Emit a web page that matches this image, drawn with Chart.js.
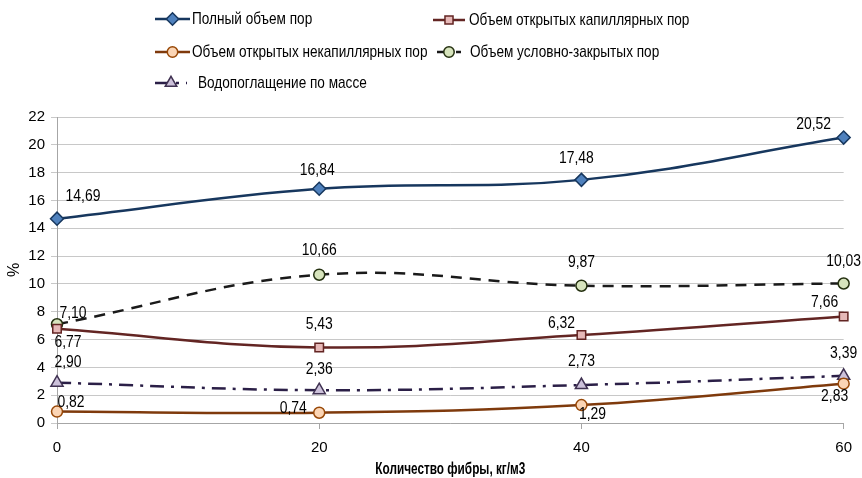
<!DOCTYPE html>
<html>
<head>
<meta charset="utf-8">
<script src="https://cdn.jsdelivr.net/npm/chart.js@4/dist/chart.umd.min.js"></script>
<style>
html,body{margin:0;padding:0;background:#fff;}
#wrap{width:862px;height:478px;position:relative;}
</style>
</head>
<body>
<div id="wrap"><canvas id="c" width="862" height="478"></canvas></div>
<script>
// ---- data ----
const fiber = [0, 20, 40, 60];
const totalPores = [14.69, 16.84, 17.48, 20.52];
const openCapillary = [6.77, 5.43, 6.32, 7.66];
const openNonCapillary = [0.82, 0.74, 1.29, 2.83];
const closedPores = [7.10, 10.66, 9.87, 10.03];
const waterAbsorption = [2.90, 2.36, 2.73, 3.39];
const seriesNames = [
  'Полный объем пор',
  'Объем открытых капиллярных пор',
  'Объем открытых некапиллярных пор',
  'Объем условно-закрытых пор',
  'Водопоглащение по массе'
];
const yTicks = [0, 2, 4, 6, 8, 10, 12, 14, 16, 18, 20, 22];
const xTitle = 'Количество фибры, кг/м3';
const yTitle = '%';

const FONT = '"Liberation Sans", Arial, sans-serif';

function pts(arr){ return arr.map((v,i)=>({x:fiber[i], y:v})); }

const datasets = [
  {label:seriesNames[0], data:pts(totalPores), borderColor:'#17375E', pointBackgroundColor:'#4F81BD', pointBorderColor:'#17375E', pointStyle:'rectRot', pointRadius:6.5, borderDash:[]},
  {label:seriesNames[1], data:pts(openCapillary), borderColor:'#632523', pointBackgroundColor:'#E6B9B8', pointBorderColor:'#632523', pointStyle:'rect', pointRadius:6, borderDash:[]},
  {label:seriesNames[2], data:pts(openNonCapillary), borderColor:'#7F3A0C', pointBackgroundColor:'#FBD5B5', pointBorderColor:'#984807', pointStyle:'circle', pointRadius:5.5, borderDash:[]},
  {label:seriesNames[3], data:pts(closedPores), borderColor:'#1A1A1A', pointBackgroundColor:'#D7E4BD', pointBorderColor:'#243010', pointStyle:'circle', pointRadius:5.5, borderDash:[11,8]},
  {label:seriesNames[4], data:pts(waterAbsorption), borderColor:'#2B1F47', pointBackgroundColor:'#CCC1DA', pointBorderColor:'#3F3151', pointStyle:'triangle', pointRadius:7, borderDash:[14,7,3,7]}
].map(d=>Object.assign({borderWidth:2.5, pointBorderWidth:1.5, tension:0.4, fill:false, clip:false}, d));

// label offsets (dx,dy) per point
const labelOffsets = [
  [[26,-22],[-2,-18],[-5,-21],[-30,-13]],
  [[11,14],[0,-23],[-20,-12],[-19,-14]],
  [[14,-9],[-26,-4],[11,10],[-9,13]],
  [[16,-11],[0,-24],[0,-23],[0,-22]],
  [[11,-20],[0,-21],[0,-23],[0,-22]]
];

const legendLayout = [
  {x:155, y:19, w:35, tx:192},
  {x:433, y:20, w:32, tx:469},
  {x:155, y:52, w:35, tx:192},
  {x:437, y:52, w:24, tx:470},
  {x:155, y:83, w:32, tx:198}
];

function condensedText(ctx, text, x, y, align, sx){
  ctx.save();
  ctx.translate(x, y);
  ctx.scale(sx, 1);
  ctx.textAlign = align;
  ctx.fillText(text, 0, 0);
  ctx.restore();
}

const labelPlugin = {
  id:'valueLabels',
  afterDatasetsDraw(chart){
    const ctx = chart.ctx;
    ctx.save();
    ctx.font = '16px ' + FONT;
    ctx.fillStyle = '#000';
    ctx.textBaseline = 'middle';
    chart.data.datasets.forEach((ds, di)=>{
      const meta = chart.getDatasetMeta(di);
      meta.data.forEach((el, i)=>{
        const v = ds.data[i].y;
        const off = labelOffsets[di][i];
        condensedText(ctx, v.toFixed(2).replace('.', ','), el.x + off[0], el.y + off[1], 'center', 0.87);
      });
    });
    ctx.restore();
  }
};

const legendPlugin = {
  id:'customLegend',
  afterDraw(chart){
    const ctx = chart.ctx;
    ctx.save();
    chart.data.datasets.forEach((ds, di)=>{
      const L = legendLayout[di];
      ctx.strokeStyle = ds.borderColor;
      ctx.lineWidth = ds.borderWidth;
      ctx.setLineDash(ds.borderDash || []);
      ctx.beginPath();
      ctx.moveTo(L.x, L.y);
      ctx.lineTo(L.x + L.w, L.y);
      ctx.stroke();
      ctx.setLineDash([]);
      ctx.fillStyle = ds.pointBackgroundColor;
      ctx.strokeStyle = ds.pointBorderColor;
      ctx.lineWidth = ds.pointBorderWidth;
      Chart.helpers.drawPoint(ctx, {
        pointStyle: ds.pointStyle,
        radius: ds.pointRadius * 0.95,
        borderWidth: ds.pointBorderWidth,
        rotation: 0
      }, L.x + L.w/2, L.y);
      ctx.fillStyle = '#000';
      ctx.font = '17px ' + FONT;
      ctx.textBaseline = 'middle';
      condensedText(ctx, ds.label, L.tx, L.y, 'left', 0.80);
    });
    // x axis title
    const xs = chart.scales.x;
    ctx.font = 'bold 17px ' + FONT;
    ctx.fillStyle = '#000';
    ctx.textBaseline = 'middle';
    const w = ctx.measureText(xTitle).width;
    condensedText(ctx, xTitle, (xs.left + xs.right)/2, 469, 'center', 150 / w);
    ctx.restore();
  }
};

new Chart(document.getElementById('c'), {
  type:'line',
  data:{datasets},
  options:{
    responsive:false,
    animation:false,
    events:[],
    layout:{padding:{top:117, right:16, left:0, bottom:0}},
    plugins:{legend:{display:false}, tooltip:{enabled:false}},
    scales:{
      x:{
        type:'linear', min:0, max:60,
        afterBuildTicks(scale){ scale.ticks = fiber.map(v=>({value:v})); },
        afterFit(scale){ scale.height = 55; },
        grid:{drawOnChartArea:false, drawTicks:true, tickLength:6, color:'#A6A6A6'},
        border:{display:true, color:'#A6A6A6', width:1},
        ticks:{color:'#000', font:{family:FONT, size:15}, padding:10, maxRotation:0},
        title:{display:false, text:xTitle}
      },
      y:{
        min:0, max:22,
        afterBuildTicks(scale){ scale.ticks = yTicks.map(v=>({value:v})); },
        afterFit(scale){ scale.width = 57; },
        grid:{color:'#C8C8C8', lineWidth:1, drawTicks:true, tickLength:6},
        border:{display:true, color:'#A6A6A6', width:1},
        ticks:{color:'#000', font:{family:FONT, size:15}, padding:6},
        title:{display:true, text:yTitle, color:'#000', font:{family:FONT, size:16}, padding:{top:5, bottom:0}}
      }
    }
  },
  plugins:[labelPlugin, legendPlugin]
});
</script>
</body>
</html>
